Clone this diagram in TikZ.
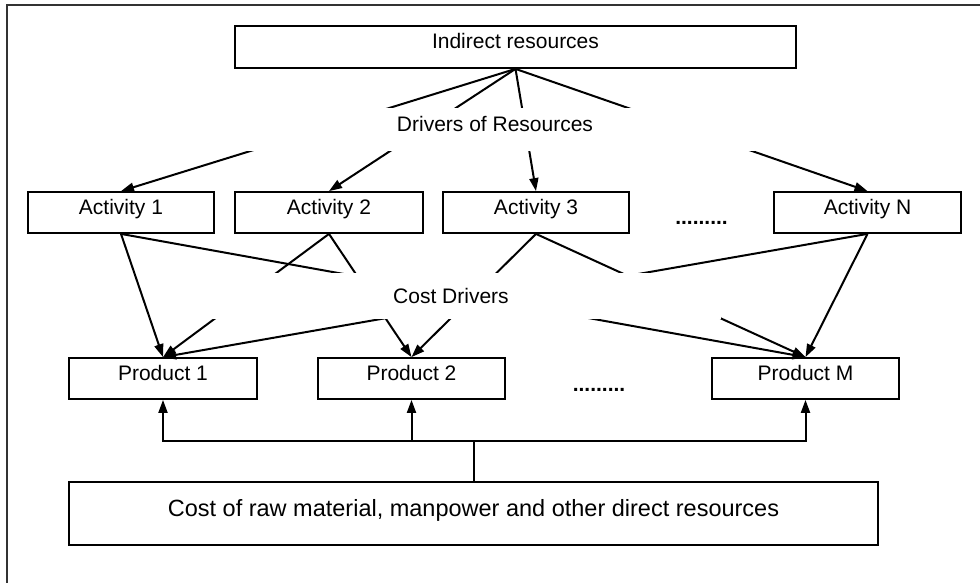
\documentclass[tikz,border=0pt]{standalone}
\usepackage{fontspec}
\setmainfont{Liberation Sans}
\usetikzlibrary{arrows.meta}
\begin{document}
\begin{tikzpicture}[x=1pt,y=-1pt,
  txt/.style={inner sep=0pt, font=\fontsize{21}{25}\selectfont},
  box/.style={txt, draw=black, line width=1.8pt, minimum height=41pt,
    text height=15pt, text depth=12pt},
  lbl/.style={txt, fill=white, minimum width=540pt},
  conn/.style={line width=2pt, -{Triangle[length=13pt,width=9pt]}},
  wire/.style={line width=2pt}
  ]
\useasboundingbox (0,0) rectangle (980,583);
\draw[line width=2pt, black!80] (7,600) -- (7,5) -- (995,5);

% boxes
\node[box, minimum width=561pt, minimum height=42pt] (ir) at (515.5,47) {Indirect resources};

\node[box, minimum width=186pt] (a1) at (121,212.5) {Activity 1};
\node[box, minimum width=188pt] (a2) at (329,212.5) {Activity 2};
\node[box, minimum width=186pt] (a3) at (536,212.5) {Activity 3};
\node[box, minimum width=187pt] (an) at (867.5,212.5) {Activity N};
\node[txt, anchor=base, font=\fontsize{21}{25}\selectfont\bfseries] (d1) at (701.5,224) {.........};

\node[box, minimum width=188pt] (p1) at (163,378.5) {Product 1};
\node[box, minimum width=187pt] (p2) at (411.5,378.5) {Product 2};
\node[box, minimum width=187pt] (pm) at (805.5,378.5) {Product M};
\node[txt, anchor=base, font=\fontsize{21}{25}\selectfont\bfseries] (d2) at (599,391) {.........};

\node[box, minimum width=809pt, minimum height=63pt, font=\fontsize{23.5}{28}\selectfont,
  text height=17pt, text depth=12pt] (cr) at (473.5,513.5)
  {Cost of raw material, manpower and other direct resources};

% resource drivers
\foreach \t in {a1,a2,a3,an} \draw[conn] (ir.south) -- (\t.north);

% cost drivers
\draw[conn] (a1.south) -- (p1.north);
\draw[conn] (a1.south) -- (pm.north);
\draw[conn] (a2.south) -- (p1.north);
\draw[conn] (a2.south) -- (p2.north);
\draw[conn] (a3.south) -- (p2.north);
\draw[conn] (a3.south) -- (pm.north);
\draw[conn] (an.south) -- (p1.north);
\draw[conn] (an.south) -- (pm.north);

% labels over the connectors
\node[lbl, minimum height=43pt, text height=15pt, text depth=11pt] (dr) at (495,129.5) {Drivers of Resources};
\node[lbl, minimum height=46pt, text height=15pt, text depth=0pt] (cd) at (451,296) {Cost Drivers};

% direct resources bus
\coordinate (bus) at (473.5,441);
\draw[wire] (cr.north) -- (bus);
\draw[conn] (bus) -| (p1.south);
\draw[conn] (bus) -| (p2.south);
\draw[conn] (bus) -| (pm.south);
\end{tikzpicture}
\end{document}
